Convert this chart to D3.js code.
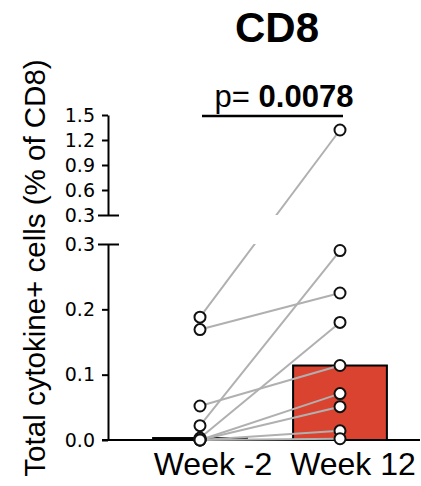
<!DOCTYPE html>
<html>
<head>
<meta charset="utf-8">
<title>CD8</title>
<style>
  body { margin: 0; background: #fff; }
</style>
</head>
<body>
<svg width="421" height="486"></svg>
<script src="https://d3js.org/d3.v7.min.js"></script>
<script>
const groups = ["Week -2", "Week 12"]
// paired values per subject, same order in both arrays
const weekMinus2 = [0.188, 0.169, 0.052, 0.022, 0.003, 0, 0, 0, 0]
const week12 = [1.32, 0.225, 0.114, 0.29, 0.18, 0.071, 0.051, 0.014, 0.002]
const lowTicks = [0, 0.1, 0.2, 0.3]
const highTicks = [0.3, 0.6, 0.9, 1.2, 1.5]
const title = "CD8"
const pValue = "0.0078"
const yTitle = "Total cytokine+ cells (% of CD8)"

const svg = d3.select("svg")
const axisX = 108

const x = d3.scaleBand()
    .domain(groups)
    .range([130, 410])
    .paddingInner(0.33)
    .paddingOuter(0.165)
const cx = g => x(g) + x.bandwidth() / 2

const yLow = d3.scaleLinear().domain([0, 0.3]).range([440, 244])
const yHigh = d3.scaleLinear().domain([0.3, 1.5]).range([215, 115])
const yPos = v => v <= 0.3 ? yLow(v) : yHigh(v)

// clip that hides the axis break band
const clip = svg.append("defs").append("clipPath").attr("id", "gap")
clip.append("rect").attr("x", 0).attr("y", 0).attr("width", 421).attr("height", yHigh(0.3))
clip.append("rect").attr("x", 0).attr("y", yLow(0.3)).attr("width", 421).attr("height", 486 - yLow(0.3))

// median bars
const bars = [
    {g: groups[0], v: d3.median(weekMinus2)},
    {g: groups[1], v: d3.median(week12)}
]
svg.append("g")
    .selectAll("rect")
    .data(bars)
    .join("rect")
    .attr("x", d => x(d.g))
    .attr("y", d => yLow(d.v))
    .attr("width", x.bandwidth())
    .attr("height", d => yLow(0) - yLow(d.v))
    .attr("fill", "#d9432f")
    .attr("stroke", "#000")
    .attr("stroke-width", 2)

// baseline
svg.append("line")
    .attr("x1", axisX - 6).attr("x2", 420)
    .attr("y1", yLow(0)).attr("y2", yLow(0))
    .attr("stroke", "#000")
    .attr("stroke-width", 2)

// paired lines
const pairs = weekMinus2.map((v, i) => [v, week12[i]])
svg.append("g")
    .attr("clip-path", "url(#gap)")
    .selectAll("line")
    .data(pairs)
    .join("line")
    .attr("x1", cx(groups[0]))
    .attr("x2", cx(groups[1]))
    .attr("y1", d => yPos(d[0]))
    .attr("y2", d => yPos(d[1]))
    .attr("stroke", "#b0b0b0")
    .attr("stroke-width", 2)

// points
const points = []
weekMinus2.forEach(v => points.push({g: groups[0], v}))
week12.forEach(v => points.push({g: groups[1], v}))
svg.append("g")
    .selectAll("circle")
    .data(points)
    .join("circle")
    .attr("cx", d => cx(d.g))
    .attr("cy", d => yPos(d.v))
    .attr("r", 5.5)
    .attr("fill", "#fff")
    .attr("stroke", "#111")
    .attr("stroke-width", 2)

// axes
const styleAxis = (g) => {
    g.select(".domain").attr("stroke-width", 2)
    g.selectAll(".tick line").attr("stroke-width", 2)
    g.selectAll(".tick text")
        .attr("font-family", "DejaVu Sans, sans-serif")
        .attr("font-size", 19)
        .attr("fill", "#000")
    g.selectAll(".tick").filter(d => d === 0.3).select("line")
        .attr("x1", 11).attr("x2", -10)
}

svg.append("g")
    .attr("transform", `translate(${axisX},0)`)
    .call(d3.axisLeft(yLow).tickValues(lowTicks).tickFormat(d3.format(".1f"))
        .tickSize(6).tickSizeOuter(0).tickPadding(7))
    .call(styleAxis)

svg.append("g")
    .attr("transform", `translate(${axisX},0)`)
    .call(d3.axisLeft(yHigh).tickValues(highTicks).tickFormat(d3.format(".1f"))
        .tickSize(6).tickSizeOuter(0).tickPadding(7))
    .call(styleAxis)

// category labels
svg.append("g")
    .selectAll("text")
    .data(groups)
    .join("text")
    .attr("x", d => cx(d) + 13)
    .attr("y", 475)
    .attr("text-anchor", "middle")
    .attr("font-family", "Liberation Sans, Arial, sans-serif")
    .attr("font-size", 32)
    .text(d => d)

// y title
svg.append("text")
    .attr("transform", "translate(45,268) rotate(-90)")
    .attr("text-anchor", "middle")
    .attr("font-family", "Liberation Sans, Arial, sans-serif")
    .attr("font-size", 29.5)
    .text(yTitle)

// title
const midX = (cx(groups[0]) + cx(groups[1])) / 2
svg.append("text")
    .attr("x", midX + 7)
    .attr("y", 42)
    .attr("text-anchor", "middle")
    .attr("font-family", "Liberation Sans, Arial, sans-serif")
    .attr("font-weight", "bold")
    .attr("font-size", 42)
    .text(title)

// significance bar
svg.append("line")
    .attr("x1", cx(groups[0]) + 2).attr("x2", cx(groups[1]) + 3)
    .attr("y1", 116).attr("y2", 116)
    .attr("stroke", "#000")
    .attr("stroke-width", 2.5)

const p = svg.append("text")
    .attr("x", midX + 14)
    .attr("y", 107)
    .attr("text-anchor", "middle")
    .attr("font-family", "Liberation Sans, Arial, sans-serif")
    .attr("font-size", 31)
p.append("tspan").text("p= ")
p.append("tspan").attr("font-weight", "bold").text(pValue)
</script>
</body>
</html>
